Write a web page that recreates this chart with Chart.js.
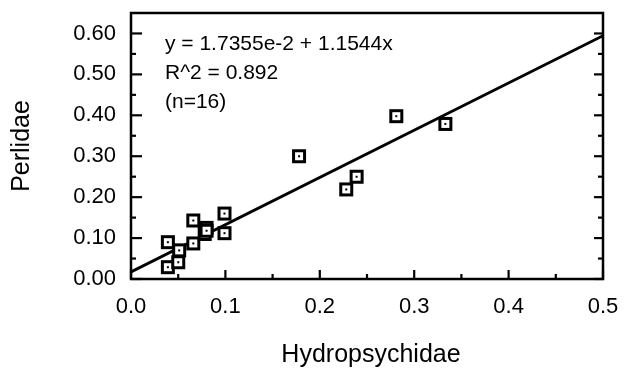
<!DOCTYPE html>
<html>
<head>
<meta charset="utf-8">
<script src="https://cdn.jsdelivr.net/npm/chart.js@4"></script>
<style>
html,body{margin:0;padding:0;background:#fff;}
#wrap{width:639px;height:371px;position:relative;}
</style>
</head>
<body>
<div id="wrap"><canvas id="c" width="639" height="371"></canvas></div>
<script>
// ---- data ----
const hydropsychidae = [0.039, 0.039, 0.051, 0.050, 0.066, 0.066, 0.080, 0.078, 0.080, 0.099, 0.099, 0.178, 0.228, 0.239, 0.281, 0.333];
const perlidae       = [0.090, 0.029, 0.070, 0.041, 0.143, 0.087, 0.125, 0.110, 0.118, 0.160, 0.112, 0.300, 0.219, 0.250, 0.398, 0.379];
const fitIntercept = 0.017355;
const fitSlope = 1.1544;
const lineX = [0.0, 0.5];
const xTicks = [0.0, 0.1, 0.2, 0.3, 0.4, 0.5];
const xMinorTicks = [0.05, 0.15, 0.25, 0.35, 0.45];
const yTicks = [0.0, 0.1, 0.2, 0.3, 0.4, 0.5, 0.6];
const yMinorTicks = [0.05, 0.15, 0.25, 0.35, 0.45, 0.55];
const annotationLines = ["y = 1.7355e-2 + 1.1544x", "R^2 = 0.892", "(n=16)"];
const xTitle = 'Hydropsychidae';
const yTitle = 'Perlidae';

const FONT = "'Liberation Sans', Arial, Helvetica, sans-serif";

function makeMarker(){
  const c = document.createElement('canvas');
  c.width = 16; c.height = 16;
  const g = c.getContext('2d');
  g.fillStyle = '#fff';
  g.fillRect(1, 1, 14, 14);
  g.strokeStyle = '#000';
  g.lineWidth = 3;
  g.strokeRect(2.5, 2.5, 11, 11);
  g.fillStyle = '#000';
  g.fillRect(7, 7, 2, 2);
  return c;
}
const marker = makeMarker();

const points = hydropsychidae.map((x, i) => ({x: x, y: perlidae[i]}));
const fitLine = lineX.map(x => ({x: x, y: fitIntercept + fitSlope * x}));

const decor = {
  id: 'decor',
  afterDatasetsDraw(chart){
    const {ctx, chartArea: a, scales: {x, y}} = chart;
    ctx.save();
    ctx.strokeStyle = '#000';
    ctx.lineCap = 'butt';
    ctx.lineWidth = 2.5;
    ctx.strokeRect(a.left, a.top, a.right - a.left, a.bottom - a.top);
    ctx.lineWidth = 2.2;
    yTicks.forEach(v => {
      const p = y.getPixelForValue(v);
      ctx.beginPath(); ctx.moveTo(a.left, p); ctx.lineTo(a.left + 11, p); ctx.stroke();
      ctx.beginPath(); ctx.moveTo(a.right, p); ctx.lineTo(a.right - 9, p); ctx.stroke();
    });
    yMinorTicks.forEach(v => {
      const p = y.getPixelForValue(v);
      ctx.beginPath(); ctx.moveTo(a.left, p); ctx.lineTo(a.left + 5, p); ctx.stroke();
      ctx.beginPath(); ctx.moveTo(a.right, p); ctx.lineTo(a.right - 5, p); ctx.stroke();
    });
    xTicks.forEach(v => {
      const p = x.getPixelForValue(v);
      ctx.beginPath(); ctx.moveTo(p, a.bottom); ctx.lineTo(p, a.bottom - 9); ctx.stroke();
    });
    xMinorTicks.forEach(v => {
      const p = x.getPixelForValue(v);
      ctx.beginPath(); ctx.moveTo(p, a.bottom); ctx.lineTo(p, a.bottom - 5); ctx.stroke();
    });
    ctx.fillStyle = '#000';
    ctx.font = '21px ' + FONT;
    ctx.textAlign = 'left';
    ctx.textBaseline = 'alphabetic';
    annotationLines.forEach((t, i) => {
      ctx.fillText(t, a.left + 34, a.top + 37 + i * 29);
    });
    // axis titles
    ctx.font = '25px ' + FONT;
    ctx.textAlign = 'center';
    ctx.textBaseline = 'middle';
    ctx.fillText(xTitle, (a.left + a.right) / 2 + 4, 355);
    ctx.save();
    ctx.translate(22, (a.top + a.bottom) / 2);
    ctx.rotate(-Math.PI / 2);
    ctx.fillText(yTitle, 0, 0);
    ctx.restore();
    ctx.restore();
  }
};

new Chart(document.getElementById('c'), {
  type: 'scatter',
  data: {
    datasets: [
      {
        type: 'line',
        data: fitLine,
        borderColor: '#000',
        borderWidth: 2.8,
        pointRadius: 0,
        fill: false,
        order: 2
      },
      {
        data: points,
        pointStyle: marker,
        pointRadius: 8,
        order: 1
      }
    ]
  },
  options: {
    responsive: false,
    animation: false,
    events: [],
    layout: {padding: {left: 0, top: 13, right: 36, bottom: 0}},
    plugins: {legend: {display: false}, tooltip: {enabled: false}},
    scales: {
      x: {
        type: 'linear',
        min: 0, max: 0.5,
        afterBuildTicks: s => { s.ticks = xTicks.map(v => ({value: v})); },
        afterFit: s => { s.height = 92; s.paddingLeft = 0; s.paddingRight = 0; },
        grid: {display: false, drawTicks: false},
        border: {display: false},
        ticks: {
          color: '#000', padding: 15,
          font: {family: FONT, size: 22},
          maxRotation: 0, autoSkip: false,
          callback: v => v.toFixed(1)
        },
        title: {display: false}
      },
      y: {
        type: 'linear',
        min: 0, max: 0.65,
        afterBuildTicks: s => { s.ticks = yTicks.map(v => ({value: v})); },
        afterFit: s => { s.width = 131; s.paddingTop = 0; s.paddingBottom = 0; },
        grid: {display: false, drawTicks: false},
        border: {display: false},
        ticks: {
          color: '#000', padding: 15,
          font: {family: FONT, size: 22},
          autoSkip: false,
          callback: v => v.toFixed(2)
        },
        title: {display: false}
      }
    }
  },
  plugins: [decor]
});
</script>
</body>
</html>
